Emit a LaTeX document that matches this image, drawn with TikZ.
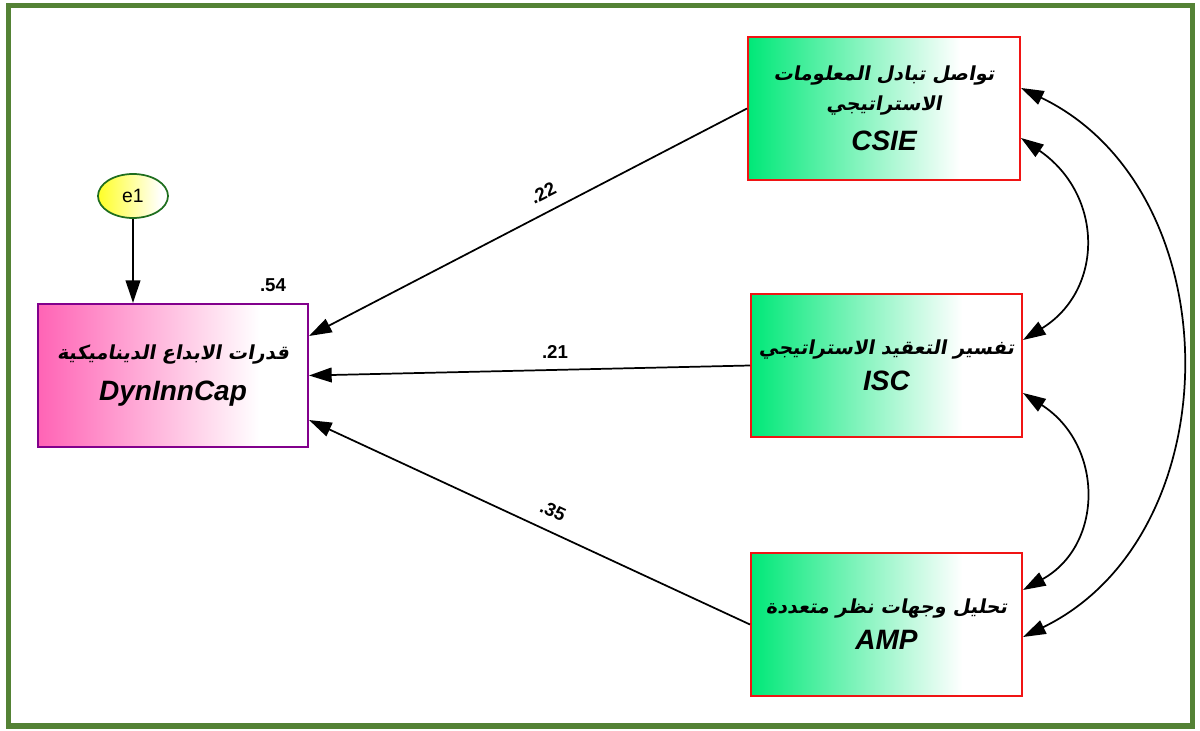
\documentclass[tikz,border=0pt]{standalone}
\usepackage{fontspec}
\setmainfont{Liberation Sans}
\newfontfamily\arabicfont[Script=Arabic,UprightFont={* Bold},FakeSlant=0.18]{DejaVu Sans}
\TeXXeTstate=1
\usetikzlibrary{arrows.meta,calc,shapes.geometric}

\definecolor{framegreen}{RGB}{84,130,53}
\definecolor{boxred}{RGB}{240,20,20}
\definecolor{boxpurple}{RGB}{130,0,140}
\definecolor{ellgreen}{RGB}{30,110,30}

% left-to-right fades that reach white before the right edge
\pgfdeclarehorizontalshading{greenfade}{100bp}{rgb(0bp)=(0,0.91,0.47); rgb(25bp)=(0,0.91,0.47); rgb(64bp)=(1,1,1); rgb(100bp)=(1,1,1)}
\pgfdeclarehorizontalshading{pinkfade}{100bp}{rgb(0bp)=(1,0.39,0.71); rgb(25bp)=(1,0.39,0.71); rgb(66bp)=(1,1,1); rgb(100bp)=(1,1,1)}
\pgfdeclarehorizontalshading{yellowfade}{100bp}{rgb(0bp)=(1,1,0.15); rgb(25bp)=(1,1,0.15); rgb(70bp)=(1,1,1); rgb(100bp)=(1,1,1)}

\tikzset{
  varbox/.style={draw=boxred, line width=1.5pt, shading=greenfade, minimum height=107.25pt, inner sep=0pt, align=center},
  depbox/.style={draw=boxpurple, line width=1.5pt, shading=pinkfade, minimum width=202.5pt, minimum height=107.25pt, inner sep=0pt, align=center},
  errnode/.style={ellipse, draw=ellgreen, line width=1.3pt, shading=yellowfade, minimum width=52.5pt, minimum height=33pt, inner sep=0pt, font=\fontsize{14.5}{16}\selectfont},
  tip/.tip={Triangle[length=17pt,width=11pt]},
  path/.style={line width=1.3pt, -tip},
  cov/.style={line width=1.3pt, tip-tip},
  coef/.style={font=\bfseries\fontsize{14}{16}\selectfont},
}
\newcommand\arl[1]{{\arabicfont\fontsize{14.5}{18}\selectfont\beginR #1\endR}}
\newcommand\lab[1]{{\bfseries\itshape\fontsize{21}{24}\selectfont #1}}

\begin{document}
\begin{tikzpicture}[x=0.75pt,y=-0.75pt]
\useasboundingbox (0,0) rectangle (1200,731);
\fill[white] (0,0) rectangle (1200,731);
\draw[framegreen, line width=3.8pt] (8.5,5.5) rectangle (1192.5,726);

% latent and observed variables
\node[depbox] (dyn) at (173,375.5) {\arl{قدرات الابداع الديناميكية}\\[12pt]\lab{DynInnCap}};
\node[varbox, minimum width=204pt] (csie) at (884,108.5) {\arl{تواصل تبادل المعلومات}\\[7pt]\arl{الاستراتيجي}\\[11pt]\lab{CSIE}};
\node[varbox, minimum width=203.25pt] (isc) at (886.5,365.5) {\arl{تفسير التعقيد الاستراتيجي}\\[8pt]\lab{ISC}};
\node[varbox, minimum width=203.25pt] (amp) at (886.5,624.5) {\arl{تحليل وجهات نظر متعددة}\\[8pt]\lab{AMP}};
\node[errnode] (e1) at (133,196) {e1};

% regression paths
\draw[path] (e1) -- (e1 |- dyn.north);
\draw[path] (csie.west) -- ($(dyn.east)+(0,-39.5)$);
\draw[path] (isc.west) -- (dyn.east);
\draw[path] (amp.west) -- ($(dyn.east)+(0,44.5)$);

% coefficients
\node[coef, rotate=27] (c1) at (543,193) {.22};
\node[coef] (c2) at (555,352) {.21};
\node[coef, rotate=-25] (c3) at (553,511) {.35};
\node[coef] (r2) at (273,285) {.54};

% covariances
\coordinate (a1) at ($(csie.east)+(0,-20.5)$);
\coordinate (a2) at ($(csie.east)+(0,29.5)$);
\coordinate (b1) at ($(isc.east)+(0,-25.5)$);
\coordinate (b2) at ($(isc.east)+(0,27.5)$);
\coordinate (d1) at ($(amp.east)+(0,-34.5)$);
\coordinate (d2) at ($(amp.east)+(0,12.5)$);
\draw[cov] (a1) .. controls (1233,190) and (1233,535) .. (d2);
\draw[cov] (a2) .. controls (1104,195) and (1104,290) .. (b1);
\draw[cov] (b2) .. controls (1104,445) and (1104,545) .. (d1);
\end{tikzpicture}
\end{document}
